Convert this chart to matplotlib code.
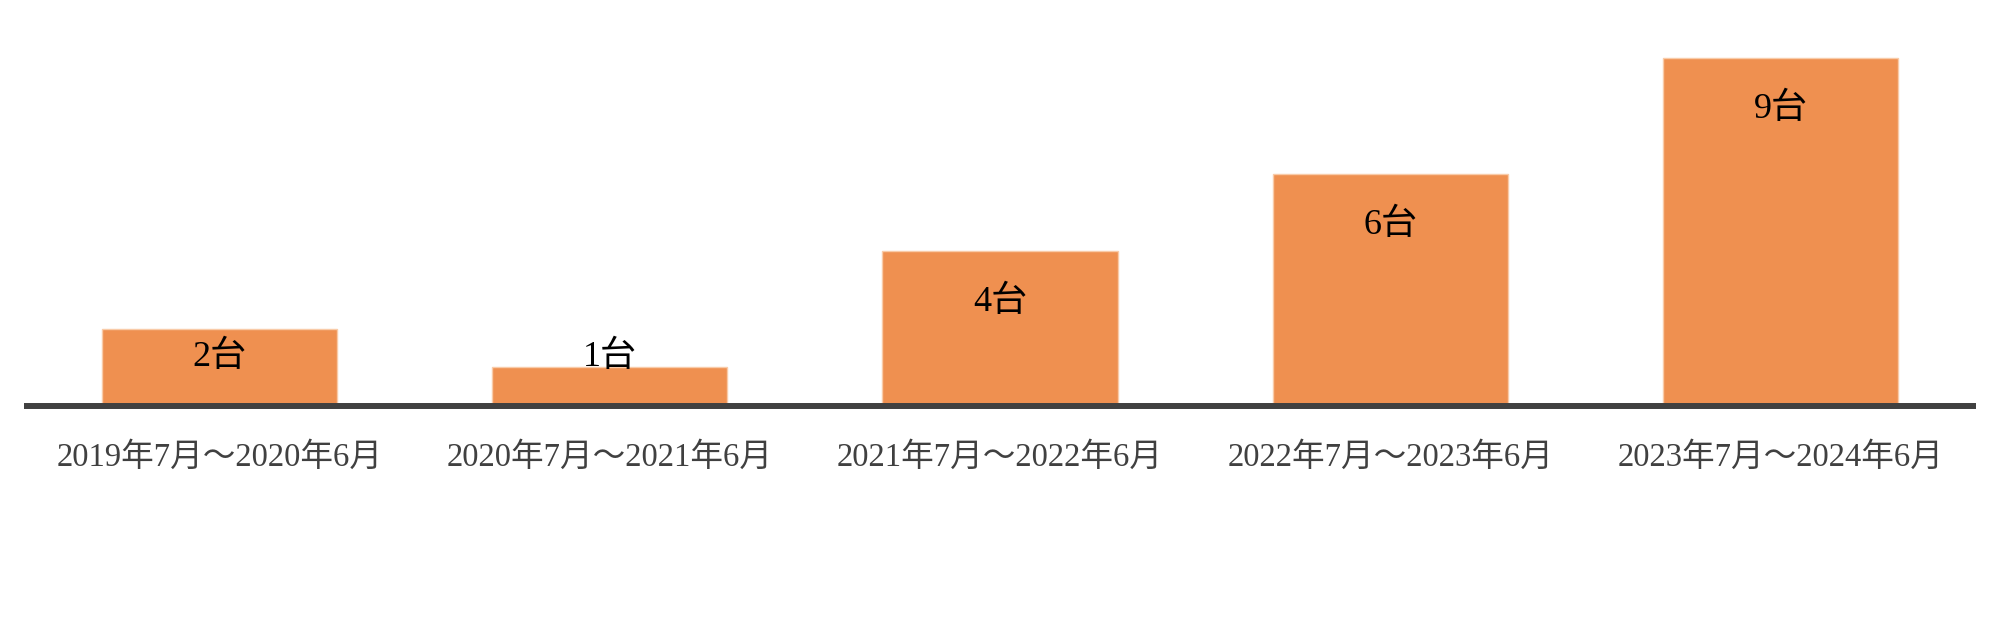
import matplotlib
matplotlib.use("Agg")
import matplotlib.pyplot as plt

# データ
periods = ["2019年7月～2020年6月", "2020年7月～2021年6月", "2021年7月～2022年6月",
           "2022年7月～2023年6月", "2023年7月～2024年6月"]
units = [2, 1, 4, 6, 9]
unit_labels = ["2台", "1台", "4台", "6台", "9台"]

fonts = ["Liberation Serif", "Noto Sans CJK JP", "DejaVu Sans"]
plt.rcParams["font.family"] = fonts

bar_color = "#EF9050"
edge_color = "#F9CBA8"
line_color = "#404040"

fig = plt.figure(figsize=(20, 6.29), dpi=100)
ax = fig.add_axes([0.0121, 0.3545, 0.9757, 0.609])

x = range(len(units))
ax.bar(x, units, width=0.603, color=bar_color, edgecolor=edge_color, linewidth=1)

# ラベル（バー上部の内側、低いバーは下限で止める）
for xi, v, lab in zip(x, units, unit_labels):
    y = max(v - 1.33, 1.27)
    ax.text(xi, y, lab, ha="center", va="center", fontsize=26, color="black")

ax.set_xlim(-0.5, 4.5)
ax.set_ylim(0, 9.9)
ax.set_xticks(list(x))
ax.set_xticklabels(periods, fontsize=23.5, color="#404040")
ax.tick_params(axis="x", length=0, pad=26)
ax.set_yticks([])

for s in ["top", "left", "right"]:
    ax.spines[s].set_visible(False)
ax.spines["bottom"].set_color(line_color)
ax.spines["bottom"].set_linewidth(4.3)
ax.spines["bottom"].set_capstyle("butt")
ax.spines["bottom"].set_zorder(3)

fig.savefig("out.png", dpi=100, facecolor="white")
